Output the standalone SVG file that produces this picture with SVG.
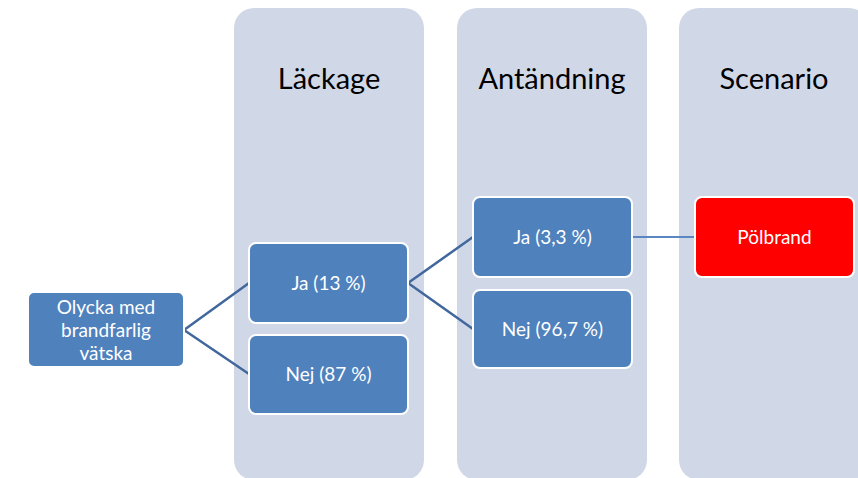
<svg xmlns="http://www.w3.org/2000/svg" width="858" height="478" viewBox="0 0 858 478">
<style>
.col{fill:#d0d8e8}
.title{font-family:Lato,"Open Sans",sans-serif;font-size:29px;fill:#000;text-anchor:middle}
.box{fill:#4f81bd;stroke:#fff;stroke-width:2}
.red{fill:#ff0000;stroke:#fff;stroke-width:2}
.lbl{font-family:Lato,"Open Sans",sans-serif;font-size:19px;fill:#fff;text-anchor:middle}
.conn{stroke:#41679c;stroke-width:2.5;fill:none}
.conn2{stroke:#5b87c0;stroke-width:2;fill:none}
</style>
<rect width="858" height="478" fill="#fff"/>
<g id="col-lackage"><rect class="col" x="234" y="8" width="190" height="472" rx="20"/><text class="title" x="329" y="89">Läckage</text></g>
<g id="col-antandning"><rect class="col" x="457" y="8" width="190" height="472" rx="20"/><text class="title" x="552" y="89">Antändning</text></g>
<g id="col-scenario"><rect class="col" x="679" y="8" width="190" height="472" rx="20"/><text class="title" x="774" y="89">Scenario</text></g>
<g id="connectors">
<path class="conn" d="M184 330 L249 283 M184 330 L249 374"/>
<path class="conn" d="M408 283 L473 237 M408 283 L473 329"/>
<path class="conn2" d="M632 237 L695 237"/>
</g>
<g id="start"><rect class="box" x="28" y="292" width="156" height="75" rx="6" stroke-width="1"/>
<text class="lbl" x="106" y="314">Olycka med</text><text class="lbl" x="106" y="337">brandfarlig</text><text class="lbl" x="106" y="360">vätska</text></g>
<g id="lack-ja"><rect class="box" x="249" y="243" width="159" height="80" rx="7"/><text class="lbl" x="328.5" y="290">Ja (13 %)</text></g>
<g id="lack-nej"><rect class="box" x="249" y="335" width="159" height="79" rx="7"/><text class="lbl" x="328.5" y="381">Nej (87 %)</text></g>
<g id="ant-ja"><rect class="box" x="473" y="197" width="159" height="80" rx="7"/><text class="lbl" x="552.5" y="244">Ja (3,3 %)</text></g>
<g id="ant-nej"><rect class="box" x="473" y="290" width="159" height="78" rx="7"/><text class="lbl" x="552.5" y="336">Nej (96,7 %)</text></g>
<g id="polbrand"><rect class="red" x="695" y="197" width="159" height="80" rx="7"/><text class="lbl" x="774.5" y="244">Pölbrand</text></g>
</svg>
